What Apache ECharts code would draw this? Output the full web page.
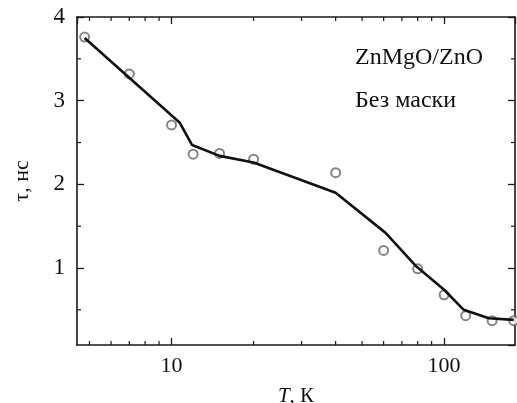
<!DOCTYPE html>
<html>
<head>
<meta charset="utf-8">
<script src="https://cdn.jsdelivr.net/npm/echarts@6/dist/echarts.min.js"></script>
<style>
  html, body { margin: 0; padding: 0; background: #fff; }
  #chart { width: 517px; height: 403px; }
</style>
</head>
<body>
<div id="chart"></div>
<script>
// measured points, T in K, tau in ns
const tempPts = [4.8, 7, 10, 12, 15, 20, 40, 60, 80, 100, 120, 150, 180];
const tauPts = [3.76, 3.32, 2.71, 2.36, 2.37, 2.30, 2.14, 1.21, 0.99, 0.68, 0.43, 0.37, 0.37];

// fitted curve
const tempFit = [4.8, 10.7, 11.9, 15, 20, 40, 61, 79, 100, 118, 146, 180];
const tauFit = [3.75, 2.74, 2.47, 2.34, 2.26, 1.90, 1.42, 1.02, 0.74, 0.50, 0.40, 0.38];

// axes
const xMin = 4.5, xMax = 182;
const yMin = 0.08, yMax = 4;
const xLabels = [10, 100];
const xMinor = [5, 6, 7, 8, 9, 20, 30, 40, 50, 60, 70, 80, 90];
const yMinor = [0.5, 1.5, 2.5, 3.5];

const serif = 'Liberation Serif';
const axisColor = '#1a1a1a';

let chart = echarts.init(document.getElementById('chart'));

const baseX = {
    type: 'log',
    logBase: 10,
    min: xMin,
    max: xMax,
    splitLine: { show: false },
    axisLine: { lineStyle: { color: axisColor, width: 1.6 } },
    axisTick: { inside: true, length: 7, lineStyle: { color: axisColor, width: 1.3 } }
};
const baseY = {
    type: 'value',
    min: yMin,
    max: yMax,
    splitNumber: 4,
    splitLine: { show: false },
    axisLine: { show: true, lineStyle: { color: axisColor, width: 1.6 } },
    axisTick: { inside: true, length: 7, lineStyle: { color: axisColor, width: 1.3 } }
};

chart.setOption({
    animation: false,
    grid: { left: 77, right: 2, top: 17, bottom: 58, outerBoundsMode: 'none' },
    xAxis: [
        Object.assign({}, baseX, {
            position: 'bottom',
            name: '{i|T}, К',
            nameLocation: 'middle',
            nameGap: 41,
            nameTextStyle: {
                fontFamily: serif, fontSize: 21, color: '#111',
                rich: { i: { fontFamily: serif, fontSize: 21, fontStyle: 'italic', color: '#111' } }
            },
            axisLabel: {
                margin: 10,
                fontFamily: serif,
                fontSize: 22,
                color: '#111',
                showMinLabel: false,
                showMaxLabel: false,
                formatter: v => (xLabels.indexOf(Math.round(v)) >= 0 && Math.abs(v - Math.round(v)) < 1e-6) ? String(Math.round(v)) : ''
            }
        }),
        Object.assign({}, baseX, { position: 'top', axisLabel: { show: false } })
    ],
    yAxis: [
        Object.assign({}, baseY, {
            position: 'left',
            name: 'τ, нс',
            nameLocation: 'middle',
            nameRotate: 90,
            nameGap: 44,
            nameTextStyle: { fontFamily: serif, fontSize: 22, color: '#111' },
            axisLabel: {
                margin: 12,
                fontFamily: serif,
                fontSize: 23,
                color: '#111',
                showMinLabel: false,
                formatter: v => Number.isInteger(v) ? String(v) : ''
            }
        }),
        Object.assign({}, baseY, { position: 'right', axisLabel: { show: false } })
    ],
    graphic: [
        { type: 'text', left: 355, top: 46, style: { text: 'ZnMgO/ZnO', font: '24px "Liberation Serif"', fill: '#111' } },
        { type: 'text', left: 355, top: 89, style: { text: 'Без маски', font: '24px "Liberation Serif"', fill: '#111' } }
    ],
    series: [
        {
            type: 'line',
            data: tempFit.map((t, i) => [t, tauFit[i]]),
            symbol: 'none',
            lineStyle: { color: '#111', width: 2.6 },
            z: 4
        },
        {
            type: 'scatter',
            data: tempPts.map((t, i) => [t, tauPts[i]]),
            symbol: 'emptyCircle',
            symbolSize: 9,
            itemStyle: { color: '#666', borderWidth: 1.3 },
            z: 3
        },
        {
            // minor ticks on bottom/top axes (log scale positions)
            type: 'custom',
            silent: true,
            clip: false,
            data: xMinor.map(v => [v, yMin]),
            renderItem: (params, api) => {
                const v = api.value(0);
                const b = api.coord([v, yMin]);
                const t = api.coord([v, yMax]);
                const st = { stroke: axisColor, lineWidth: 1.2 };
                return {
                    type: 'group',
                    children: [
                        { type: 'line', shape: { x1: b[0], y1: b[1], x2: b[0], y2: b[1] - 4 }, style: st },
                        { type: 'line', shape: { x1: t[0], y1: t[1], x2: t[0], y2: t[1] + 4 }, style: st }
                    ]
                };
            }
        },
        {
            // minor ticks on left/right axes
            type: 'custom',
            silent: true,
            clip: false,
            data: yMinor.map(v => [xMin, v]),
            renderItem: (params, api) => {
                const v = api.value(1);
                const l = api.coord([xMin, v]);
                const r = api.coord([xMax, v]);
                const st = { stroke: axisColor, lineWidth: 1.2 };
                return {
                    type: 'group',
                    children: [
                        { type: 'line', shape: { x1: l[0], y1: l[1], x2: l[0] + 4, y2: l[1] }, style: st },
                        { type: 'line', shape: { x1: r[0], y1: r[1], x2: r[0] - 4, y2: r[1] }, style: st }
                    ]
                };
            }
        }
    ]
});
</script>
</body>
</html>
